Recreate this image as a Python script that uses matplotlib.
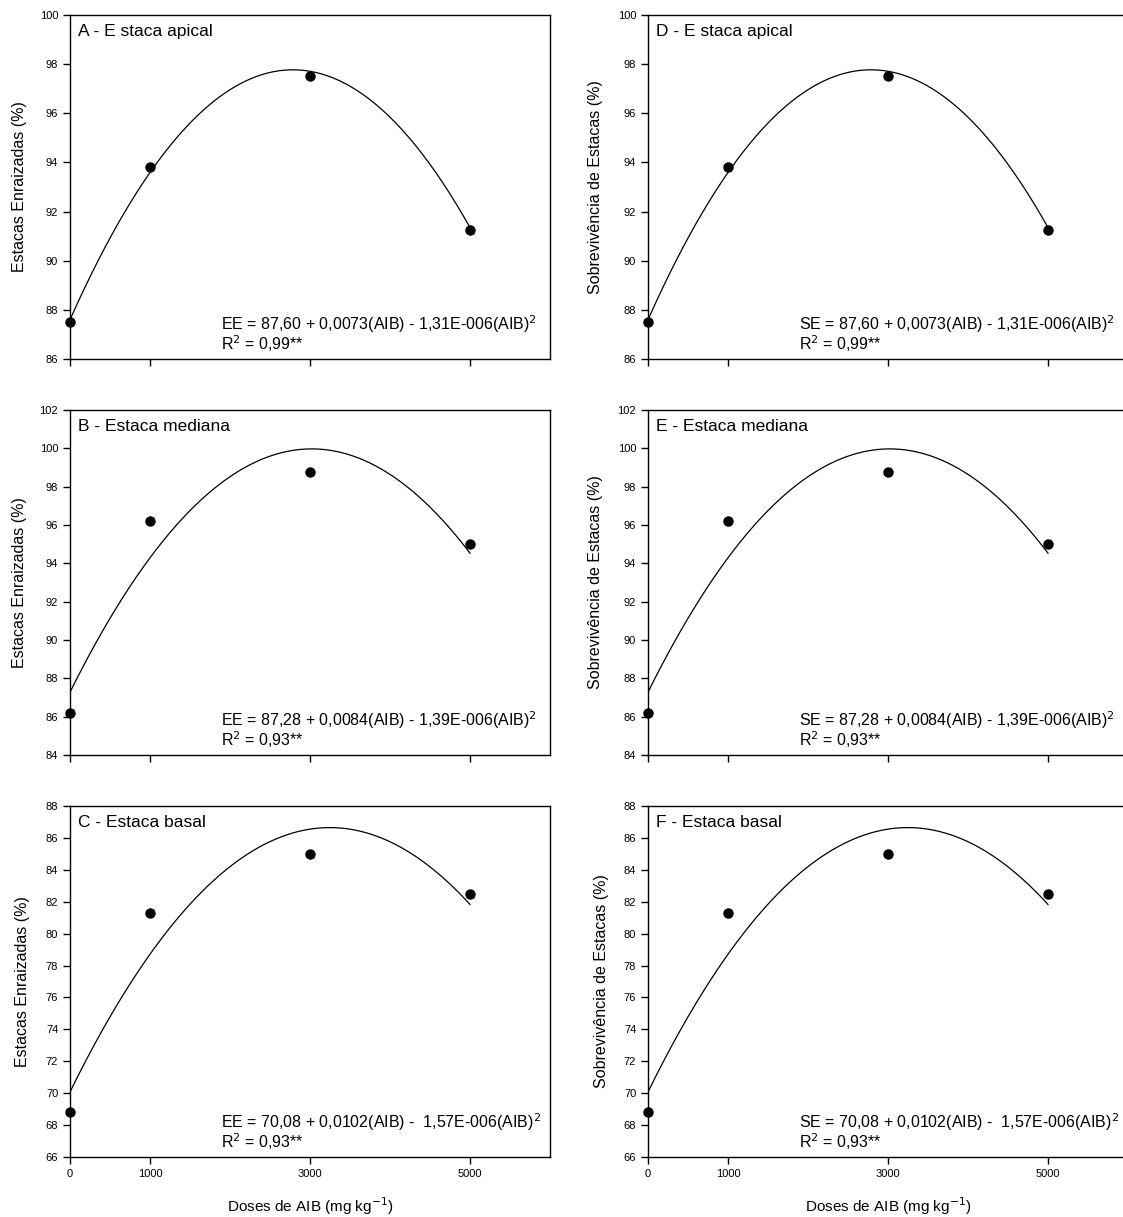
import numpy as np
import matplotlib
matplotlib.use("Agg")
import matplotlib.pyplot as plt

plt.rcParams['font.family'] = ['Liberation Sans', 'DejaVu Sans']

# doses of AIB
doses = [0, 1000, 3000, 5000]

# observed means, one list per panel row
apical = [87.5, 93.8, 97.5, 91.25]
mediana = [86.2, 96.2, 98.75, 95.0]
basal = [68.8, 81.3, 85.0, 82.5]

# quadratic fit coefficients (b0, b1, b2) as printed on the chart
coef_apical = [87.60, 0.0073, -1.31e-6]
coef_mediana = [87.28, 0.0084, -1.39e-6]
coef_basal = [70.08, 0.0102, -1.57e-6]

r2_apical = "0,99"
r2_mediana = "0,93"
r2_basal = "0,93"

eq_apical = "87,60 + 0,0073(AIB) - 1,31E-006(AIB)$^2$"
eq_mediana = "87,28 + 0,0084(AIB) - 1,39E-006(AIB)$^2$"
eq_basal = "70,08 + 0,0102(AIB) -  1,57E-006(AIB)$^2$"

titles_left = ["A - E staca apical", "B - Estaca mediana", "C - Estaca basal"]
titles_right = ["D - E staca apical", "E - Estaca mediana", "F - Estaca basal"]

ylims = [(86, 100), (84, 102), (66, 88)]

rows = [
    (apical, coef_apical, r2_apical, eq_apical),
    (mediana, coef_mediana, r2_mediana, eq_mediana),
    (basal, coef_basal, r2_basal, eq_basal),
]

fig = plt.figure(figsize=(11.23, 12.17), dpi=100)

W, H = 1123, 1217
col_left = [70, 648]
row_tb = [(15, 359), (410, 755), (806, 1157)]
ax_w = 480
label_x_left = [-0.09, -0.09, -0.083]
label_x_right = [-0.094, -0.094, -0.081]


def draw_panel(ax, vals, coef, r2, eq, title, ylab, prefix, ylim, last_row, lx):
    xs = np.linspace(0, 5000, 300)
    ys = coef[0] + coef[1] * xs + coef[2] * xs ** 2
    ax.plot(xs, ys, color='black', lw=0.9)
    ax.plot(doses, vals, 'o', color='black', ms=6.5, clip_on=False, zorder=3)
    ax.set_xlim(0, 6000)
    ax.set_ylim(*ylim)
    ax.set_xticks(doses)
    ax.set_yticks(np.arange(ylim[0], ylim[1] + 0.1, 2))
    ax.tick_params(direction='out', length=5, width=1, labelsize=8, colors='black')
    if last_row:
        ax.set_xticklabels([str(d) for d in doses])
        ax.set_xlabel("Doses de AIB (mg kg$^{-1}$)", fontsize=11, labelpad=12)
    else:
        ax.set_xticklabels([])
    ax.set_ylabel(ylab, fontsize=11.5)
    ax.yaxis.set_label_coords(lx, 0.5)
    for s in ax.spines.values():
        s.set_linewidth(1)
    ax.text(0.016, 0.952, title, transform=ax.transAxes, fontsize=12.5,
            va='center', ha='left')
    ax.text(0.315, 0.10, f"{prefix} = {eq}", transform=ax.transAxes,
            fontsize=11.5, va='center', ha='left')
    ax.text(0.315, 0.045, f"R$^2$ = {r2}**", transform=ax.transAxes,
            fontsize=11.5, va='center', ha='left')


for i, (vals, coef, r2, eq) in enumerate(rows):
    top, bot = row_tb[i]
    for j in range(2):
        rect = [col_left[j] / W, 1 - bot / H, ax_w / W, (bot - top) / H]
        ax = fig.add_axes(rect)
        if j == 0:
            draw_panel(ax, vals, coef, r2, eq, titles_left[i],
                       "Estacas Enraizadas (%)", "EE", ylims[i], i == 2,
                       label_x_left[i])
        else:
            draw_panel(ax, vals, coef, r2, eq, titles_right[i],
                       "Sobrevivência de Estacas (%)", "SE", ylims[i], i == 2,
                       label_x_right[i])

fig.savefig("out.png", dpi=100)
plt.close(fig)
